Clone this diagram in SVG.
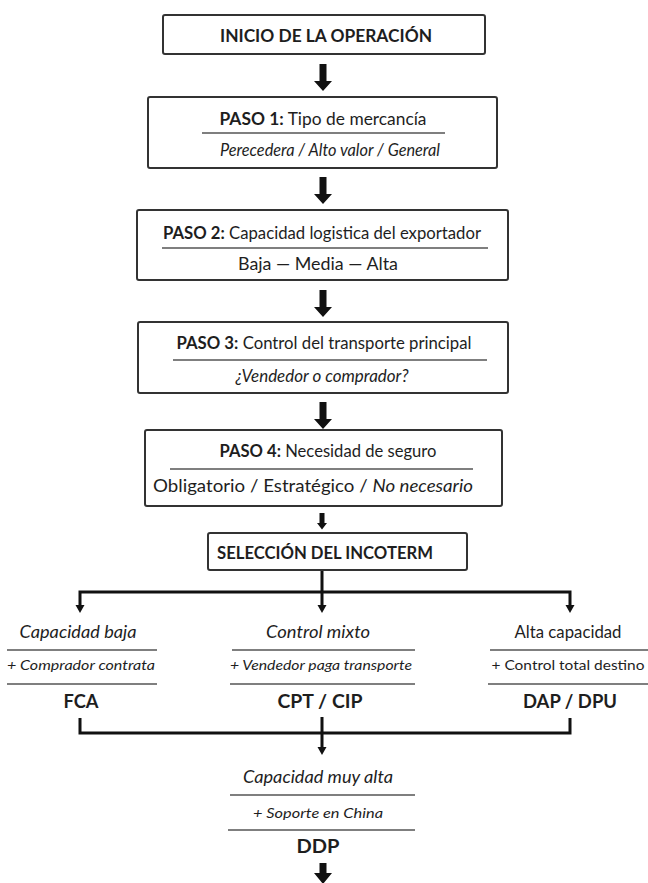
<svg xmlns="http://www.w3.org/2000/svg" xmlns:xlink="http://www.w3.org/1999/xlink" width="648" height="883" viewBox="0 0 648 883">
<style>
.box{fill:#fff;stroke:#333;stroke-width:2}
.dv{stroke:#555;stroke-width:1.5}
.t{font-family:Lato,"Noto Sans","Liberation Sans",sans-serif;fill:#1e1e1e;text-anchor:middle;font-size:16.5px}
.b{font-weight:700}
.i{font-style:italic}
.s{font-size:14px}
.c{font-size:18px;font-weight:700}
.ln{stroke:#111;stroke-width:3;fill:none}
.ah{fill:#111}
</style>
<defs>
<path id="big" d="M-3.5,0 H3.5 V17 H9 L0,27 L-9,17 H-3.5 Z"/>
<path id="head" d="M-4.5,0 H4.5 L0,8 Z"/>
</defs>
<rect width="648" height="883" fill="#fff"/>

<g id="connectors">
<use xlink:href="#big" href="#big" x="323" y="64" class="ah"/>
<use xlink:href="#big" href="#big" x="323" y="177" class="ah"/>
<use xlink:href="#big" href="#big" x="323" y="290" class="ah"/>
<use xlink:href="#big" href="#big" x="323" y="402" class="ah"/>
<path class="ah" d="M319.5,513 H324.5 V523 H327 L322,529.5 L317,523 H319.5 Z"/>
<path class="ln" d="M322,570 V606 M80,606 V592 H570 V606"/>
<use xlink:href="#head" href="#head" x="80" y="605" class="ah"/>
<use xlink:href="#head" href="#head" x="322" y="605" class="ah"/>
<use xlink:href="#head" href="#head" x="570" y="605" class="ah"/>
<path class="ln" d="M80,718 V733 H570 V718 M322,717 V748"/>
<use xlink:href="#head" href="#head" x="322" y="747" class="ah"/>
<path class="ah" d="M319.5,863 H326.5 V873 H332 L323,884 L314,873 H319.5 Z"/>
</g>

<g id="inicio">
<rect class="box" x="163" y="15" width="322" height="39" rx="2"/>
<text class="t b" x="326" y="42" font-size="15.5" textLength="212" lengthAdjust="spacingAndGlyphs">INICIO DE LA OPERACIÓN</text>
</g>

<g id="paso1">
<rect class="box" x="148" y="97" width="349" height="71" rx="2"/>
<text class="t" x="323" y="125" textLength="207" lengthAdjust="spacingAndGlyphs"><tspan class="b">PASO 1:</tspan> Tipo de mercancía</text>
<line class="dv" x1="202" y1="133" x2="445" y2="133"/>
<text class="t i" x="330" y="156" textLength="220" lengthAdjust="spacingAndGlyphs">Perecedera / Alto valor / General</text>
</g>

<g id="paso2">
<rect class="box" x="137" y="210" width="371" height="70" rx="2"/>
<text class="t" x="322" y="239" textLength="318" lengthAdjust="spacingAndGlyphs"><tspan class="b">PASO 2:</tspan> Capacidad logistica del exportador</text>
<line class="dv" x1="162" y1="248" x2="488" y2="248"/>
<text class="t" x="318" y="270" textLength="160" lengthAdjust="spacingAndGlyphs">Baja — Media — Alta</text>
</g>

<g id="paso3">
<rect class="box" x="138" y="322" width="370" height="71" rx="2"/>
<text class="t" x="324" y="349" textLength="295" lengthAdjust="spacingAndGlyphs"><tspan class="b">PASO 3:</tspan> Control del transporte principal</text>
<line class="dv" x1="173" y1="360" x2="487" y2="360"/>
<text class="t i" x="322" y="382" textLength="173" lengthAdjust="spacingAndGlyphs">¿Vendedor o comprador?</text>
</g>

<g id="paso4">
<rect class="box" x="145" y="430" width="357" height="76" rx="2"/>
<text class="t" x="328" y="457" textLength="217" lengthAdjust="spacingAndGlyphs"><tspan class="b">PASO 4:</tspan> Necesidad de seguro</text>
<line class="dv" x1="170" y1="469" x2="473" y2="469"/>
<text class="t" x="313" y="492" textLength="320" lengthAdjust="spacingAndGlyphs">Obligatorio / Estratégico / <tspan class="i">No necesario</tspan></text>
</g>

<g id="seleccion">
<rect class="box" x="208" y="533" width="259" height="37" rx="2"/>
<text class="t b" x="325" y="559" font-size="15.5" textLength="216" lengthAdjust="spacingAndGlyphs">SELECCIÓN DEL INCOTERM</text>
</g>

<g id="fca">
<text class="t i" x="78" y="638" font-size="17.5" textLength="117" lengthAdjust="spacingAndGlyphs">Capacidad baja</text>
<line class="dv" x1="7" y1="650" x2="157" y2="650"/>
<text class="t i s" x="81" y="670" textLength="148" lengthAdjust="spacingAndGlyphs">+ Comprador contrata</text>
<line class="dv" x1="7" y1="684" x2="157" y2="684"/>
<text class="t c" x="81" y="708" textLength="35" lengthAdjust="spacingAndGlyphs">FCA</text>
</g>

<g id="cpt">
<text class="t i" x="318" y="638" font-size="17.5" textLength="104" lengthAdjust="spacingAndGlyphs">Control mixto</text>
<line class="dv" x1="232" y1="650" x2="415" y2="650"/>
<text class="t i s" x="321" y="670" textLength="182" lengthAdjust="spacingAndGlyphs">+ Vendedor paga transporte</text>
<line class="dv" x1="230" y1="684" x2="415" y2="684"/>
<text class="t c" x="320" y="708" textLength="85" lengthAdjust="spacingAndGlyphs">CPT / CIP</text>
</g>

<g id="dap">
<text class="t" x="568" y="638" font-size="17" textLength="107" lengthAdjust="spacingAndGlyphs">Alta capacidad</text>
<line class="dv" x1="490" y1="650" x2="648" y2="650"/>
<text class="t s" x="568" y="670" textLength="153" lengthAdjust="spacingAndGlyphs">+ Control total destino</text>
<line class="dv" x1="488" y1="684" x2="648" y2="684"/>
<text class="t c" x="570" y="708" textLength="94" lengthAdjust="spacingAndGlyphs">DAP / DPU</text>
</g>

<g id="ddp">
<text class="t i" x="318" y="783" font-size="17.5" textLength="150" lengthAdjust="spacingAndGlyphs">Capacidad muy alta</text>
<line class="dv" x1="230" y1="795" x2="415" y2="795"/>
<text class="t i s" x="318" y="818" textLength="130" lengthAdjust="spacingAndGlyphs">+ Soporte en China</text>
<line class="dv" x1="228" y1="830" x2="415" y2="830"/>
<text class="t c" x="318" y="853" textLength="43" lengthAdjust="spacingAndGlyphs">DDP</text>
</g>
</svg>
